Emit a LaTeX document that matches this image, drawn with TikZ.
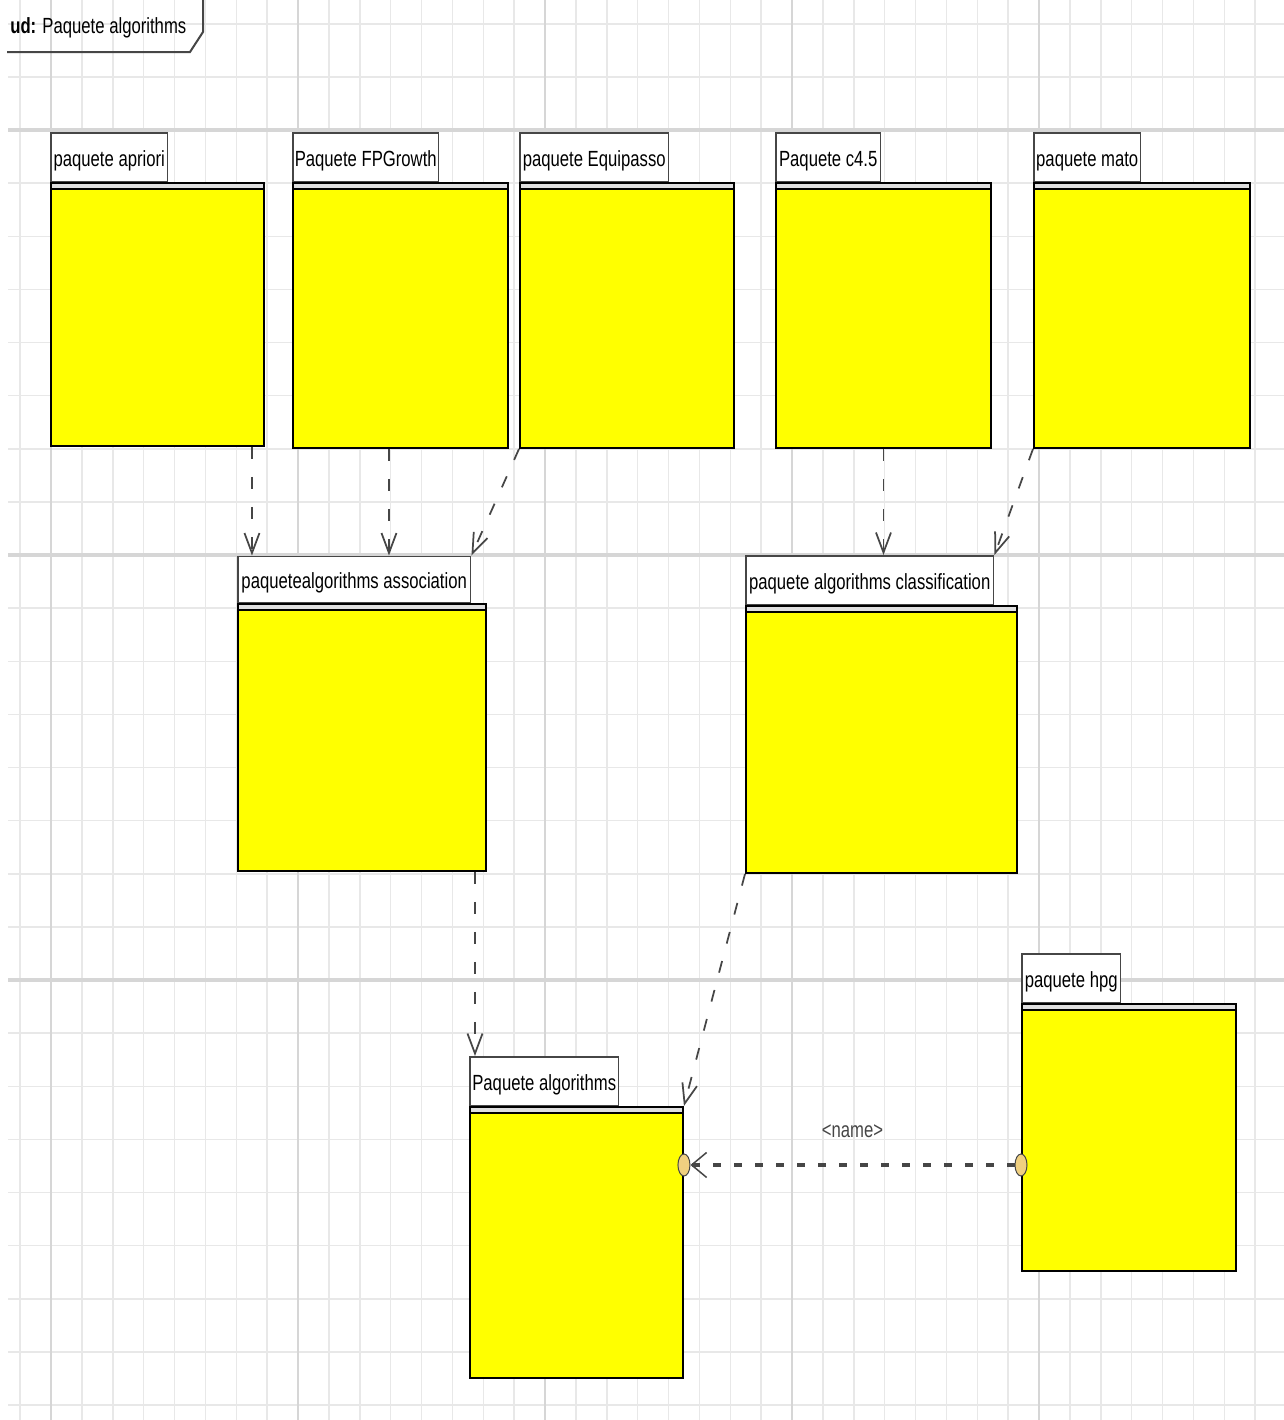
\documentclass[tikz,border=0pt]{standalone}
\usepackage{fontspec}
\setmainfont{Liberation Sans}[FakeStretch=0.76]
\usepackage{tikz}
\usetikzlibrary{arrows.meta, shapes.geometric}
\definecolor{pkgyellow}{RGB}{255,255,0}
\definecolor{gridminor}{RGB}{232,232,232}
\definecolor{gridmajor}{RGB}{214,214,214}
\definecolor{portfill}{RGB}{240,208,128}
\definecolor{linegray}{RGB}{70,70,70}

\begin{document}
\begin{tikzpicture}[x=0.02cm, y=-0.02cm,
        font=\fontsize{12.5}{14}\selectfont,
        pkgbody/.style={draw=black, line width=0.04cm, fill=pkgyellow, inner sep=0pt, anchor=north west,
            path picture={
                \fill[gray!25] (path picture bounding box.north west) rectangle ([yshift=-0.12cm]path picture bounding box.north east);
                \draw[black, line width=0.04cm] ([yshift=-0.12cm]path picture bounding box.north west) -- ([yshift=-0.12cm]path picture bounding box.north east);
            }},
        pkgtab/.style={draw=linegray, line width=0.03cm, fill=white, inner sep=0pt, anchor=south west, minimum height=0.97cm,
            text height=0.46cm, text depth=0.09cm},
        dep/.style={linegray, line width=0.035cm, dash pattern=on 0.24cm off 0.36cm, -{Straight Barb[length=0.4cm,width=0.3cm]}},
        link/.style={linegray, line width=0.07cm, dash pattern=on 0.16cm off 0.26cm, -{Straight Barb[length=0.3cm,width=0.5cm,line width=0.03cm]}},
        port/.style={ellipse, draw=linegray, line width=0.02cm, fill=portfill, inner sep=0pt, minimum width=0.24cm, minimum height=0.44cm}]
        \useasboundingbox (0,0) rectangle (1284,1420);

        % Background grid
        \foreach \i in {0,...,40} {
            \pgfmathsetmacro{\gx}{20.125+\i*30.875}
            \draw[gridminor, line width=0.03cm] (\gx,0) -- (\gx,1420);
        }
        \foreach \j in {0,...,26} {
            \pgfmathsetmacro{\gy}{23.75+\j*53.125}
            \draw[gridminor, line width=0.03cm] (8,\gy) -- (1284,\gy);
        }
        \foreach \gx in {51,298,545,792,1039} {
            \draw[gridmajor, line width=0.04cm] (\gx,0) -- (\gx,1420);
        }
        \foreach \gy in {130,555,980} {
            \draw[gridmajor, line width=0.08cm] (8,\gy) -- (1284,\gy);
        }

        % Diagram frame label
        \node[anchor=west, inner sep=0pt] (title) at (10,28) {\textbf{ud:} Paquete algorithms};
        \draw[linegray, line width=0.04cm] (203,0) -- (203,32) -- (190,52) -- (7,52);

        % Top row of packages
        \node[pkgbody, minimum width=4.26cm, minimum height=5.26cm] (aprioriB) at (50,182) {};
        \node[pkgtab, minimum width=2.34cm] (aprioriT) at (aprioriB.north west) {paquete apriori};
        \node[pkgbody, minimum width=4.30cm, minimum height=5.30cm] (fpB) at (292,182) {};
        \node[pkgtab, minimum width=2.92cm] (fpT) at (fpB.north west) {Paquete FPGrowth};
        \node[pkgbody, minimum width=4.28cm, minimum height=5.30cm] (equB) at (519,182) {};
        \node[pkgtab, minimum width=2.98cm] (equT) at (equB.north west) {paquete Equipasso};
        \node[pkgbody, minimum width=4.30cm, minimum height=5.30cm] (c45B) at (775,182) {};
        \node[pkgtab, minimum width=2.10cm] (c45T) at (c45B.north west) {Paquete c4.5};
        \node[pkgbody, minimum width=4.32cm, minimum height=5.30cm] (matoB) at (1033,182) {};
        \node[pkgtab, minimum width=2.14cm] (matoT) at (matoB.north west) {paquete mato};

        % Middle row
        \node[pkgbody, minimum width=4.96cm, minimum height=5.34cm] (assocB) at (237,603) {};
        \node[pkgtab, minimum width=4.66cm, minimum height=0.92cm] (assocT) at (assocB.north west) {paquetealgorithms association};
        \node[pkgbody, minimum width=5.42cm, minimum height=5.34cm] (classB) at (745,605) {};
        \node[pkgtab, minimum width=4.96cm] (classT) at (classB.north west) {paquete algorithms classification};

        % Bottom row
        \node[pkgbody, minimum width=4.26cm, minimum height=5.42cm] (algB) at (469,1106) {};
        \node[pkgtab, minimum width=2.98cm] (algT) at (algB.north west) {Paquete algorithms};
        \node[pkgbody, minimum width=4.28cm, minimum height=5.34cm] (hpgB) at (1021,1003) {};
        \node[pkgtab, minimum width=1.98cm] (hpgT) at (hpgB.north west) {paquete hpg};

        % Dependencies
        \draw[dep] ([xshift=-0.26cm]aprioriB.south east) -- ([xshift=-0.26cm]aprioriB.south east |- assocT.north);
        \draw[dep] ([xshift=-0.23cm]fpB.south) -- ([xshift=-0.23cm]fpB.south |- assocT.north);
        \draw[dep] (equB.south west) -- (assocT.north east);
        \draw[dep] (c45B.south) -- (c45B.south |- classT.north);
        \draw[dep] (matoB.south west) -- (classT.north east);
        \draw[dep] ([xshift=0.12cm]algT.north west |- assocB.south) -- ([xshift=0.12cm]algT.north west);
        \draw[dep] (classB.south west) -- (algB.north east);

        % Port connection
        \node[port] (portR) at ([yshift=-3.24cm]hpgB.north west) {};
        \node[port] (portL) at (algB.east |- portR) {};
        \draw[link] (portR) -- (portL) node[midway, above=0.4cm, linegray] {<name>};
\end{tikzpicture}
\end{document}
